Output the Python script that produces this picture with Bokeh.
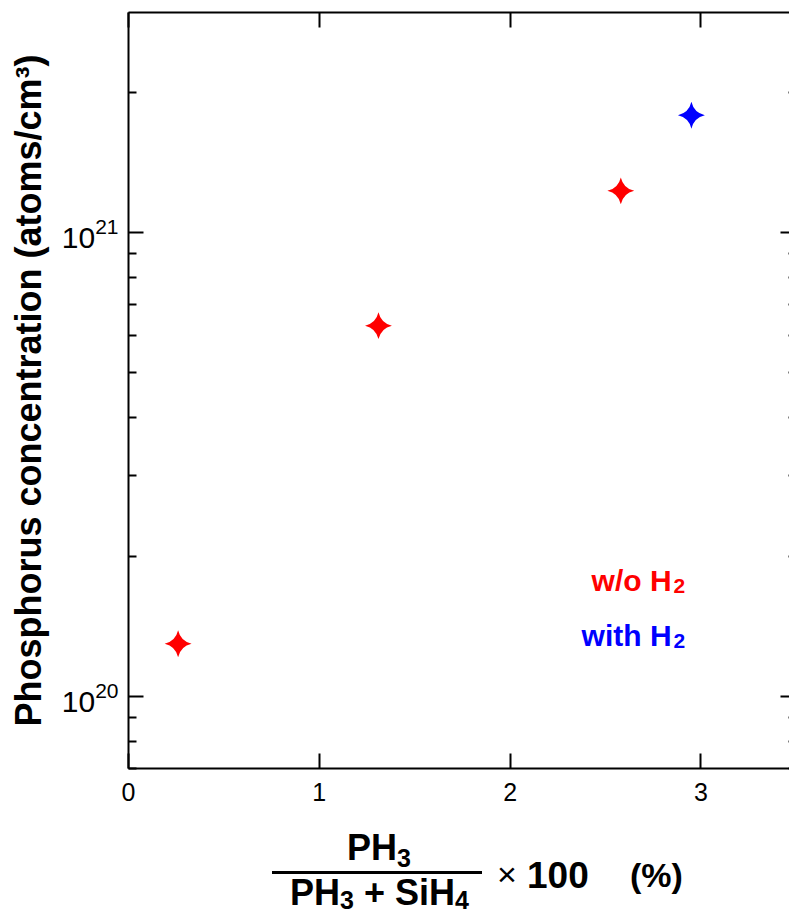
import math

from bokeh.embed import file_html
from bokeh.layouts import column
from bokeh.models import (CustomJSTickFormatter, Div, FixedTicker, Label, LinearAxis,
                          LogAxis, LogTickFormatter, Range1d)
from bokeh.plotting import figure
from bokeh.resources import INLINE

# PH3 share of the PH3 + SiH4 gas flow (%) and phosphorus concentration (atoms/cm3)
ratio_wo_h2 = [0.26, 1.31, 2.58]
conc_wo_h2 = [1.30e20, 6.30e20, 1.23e21]
ratio_with_h2 = [2.95]
conc_with_h2 = [1.79e21]

x_ticks = [0, 1, 2, 3]
y_major = [1e20, 1e21]
y_minor = [m * 10.0 ** e for e in (19, 20, 21) for m in range(2, 10)]
y_label = "Phosphorus concentration (atoms/cm³)"

FONT = "Liberation Sans"
RED = "#ff0000"
BLUE = "#0000ff"

p = figure(
    width=789, height=815, y_axis_type="log",
    x_range=Range1d(0, 3.464), y_range=Range1d(7.0e19, 2.98e21),
    output_backend="svg", toolbar_location=None,
    min_border_left=128, min_border_right=0, min_border_top=12, min_border_bottom=47,
)
p.grid.visible = False
p.outline_line_color = None
p.background_fill_color = "white"
p.border_fill_color = "white"

# bottom axis
xa = p.xaxis[0]
xa.ticker = FixedTicker(ticks=x_ticks, minor_ticks=[])
xa.major_tick_in = 15
xa.major_tick_out = 0
xa.minor_tick_in = 0
xa.minor_tick_out = 0
xa.axis_line_width = 2
xa.major_tick_line_width = 2
xa.major_label_text_font = FONT
xa.major_label_text_font_size = "25px"
xa.major_label_text_color = "black"
xa.major_label_standoff = 14

# left (log) axis
ya = p.yaxis[0]
ya.ticker = FixedTicker(ticks=y_major, minor_ticks=y_minor)
ya.formatter = LogTickFormatter()
ya.major_tick_in = 15
ya.major_tick_out = 0
ya.minor_tick_in = 8
ya.minor_tick_out = 0
ya.axis_line_width = 2
ya.major_tick_line_width = 2
ya.minor_tick_line_width = 2
ya.major_label_text_font = FONT
ya.major_label_text_font_size = "30px"
ya.major_label_text_color = "black"
ya.major_label_standoff = 10
ya.axis_label = y_label
ya.axis_label_text_font = FONT
ya.axis_label_text_font_size = "36px"
ya.axis_label_text_font_style = "bold"
ya.axis_label_text_color = "black"
ya.axis_label_standoff = 10

# mirrored axes on top and right: ticks only, no labels
blank = CustomJSTickFormatter(code="return ''")
top = LinearAxis(
    ticker=FixedTicker(ticks=x_ticks, minor_ticks=[]), formatter=blank,
    major_tick_in=15, major_tick_out=0, minor_tick_in=0, minor_tick_out=0,
    axis_line_width=2, major_tick_line_width=2,
    major_label_text_font_size="1px", major_label_standoff=0,
)
p.add_layout(top, "above")

right = LogAxis(
    ticker=FixedTicker(ticks=y_major, minor_ticks=y_minor), formatter=blank,
    axis_line_color=None,
    major_tick_in=9, major_tick_out=0, minor_tick_in=1, minor_tick_out=0,
    major_tick_line_width=2, minor_tick_line_width=2,
    major_label_text_font_size="1px", major_label_standoff=0,
)
p.add_layout(right, "right")

# four-pointed star markers
p.scatter(ratio_wo_h2, conc_wo_h2, marker="square_pin", size=19, angle=math.pi / 4,
          fill_color=RED, line_color=None)
p.scatter(ratio_with_h2, conc_with_h2, marker="square_pin", size=19, angle=math.pi / 4,
          fill_color=BLUE, line_color=None)


# in-plot legend text
def legend_entry(text, x, y, color):
    p.add_layout(Label(x=x, y=y, text=text, text_align="right", text_baseline="alphabetic",
                       text_font=FONT, text_font_size="30px", text_font_style="bold",
                       text_color=color))
    p.add_layout(Label(x=x, y=y, x_offset=2, y_offset=-6, text="2", text_align="left",
                       text_baseline="alphabetic", text_font=FONT, text_font_size="21px",
                       text_font_style="bold", text_color=color))


legend_entry("w/o H", 2.846, 1.78e20, RED)
legend_entry("with H", 2.846, 1.355e20, BLUE)

# x axis title: PH3 / (PH3 + SiH4) x 100 (%)
SUB = "font-size:25px;position:relative;top:7px;"
SUB_LOW = "font-size:25px;position:relative;top:4.5px;"
BOX = "position:absolute;white-space:nowrap;line-height:1;"
title_html = f"""
<div style="position:relative;width:789px;height:100px;overflow:hidden;
            font-family:'{FONT}';color:black;background:white;">
  <div style="{BOX}left:347px;top:14.5px;font-size:36px;font-weight:bold;">PH<span style="{SUB}">3</span></div>
  <div style="position:absolute;left:272px;top:55.5px;width:210px;height:3px;background:black;"></div>
  <div style="{BOX}left:290px;top:59.5px;font-size:36px;font-weight:bold;">PH<span style="{SUB_LOW}">3</span> + SiH<span style="{SUB_LOW}">4</span></div>
  <div style="{BOX}left:497px;top:42px;font-size:34px;">×</div>
  <div style="{BOX}left:527px;top:41.5px;font-size:37px;font-weight:bold;">100</div>
  <div style="{BOX}left:630px;top:43px;font-size:34px;font-weight:bold;">(%)</div>
</div>
"""
title = Div(text=title_html, width=789, height=100, margin=0)

layout = column(p, title, spacing=0)

open("out.html", "w").write(file_html(layout, INLINE))
